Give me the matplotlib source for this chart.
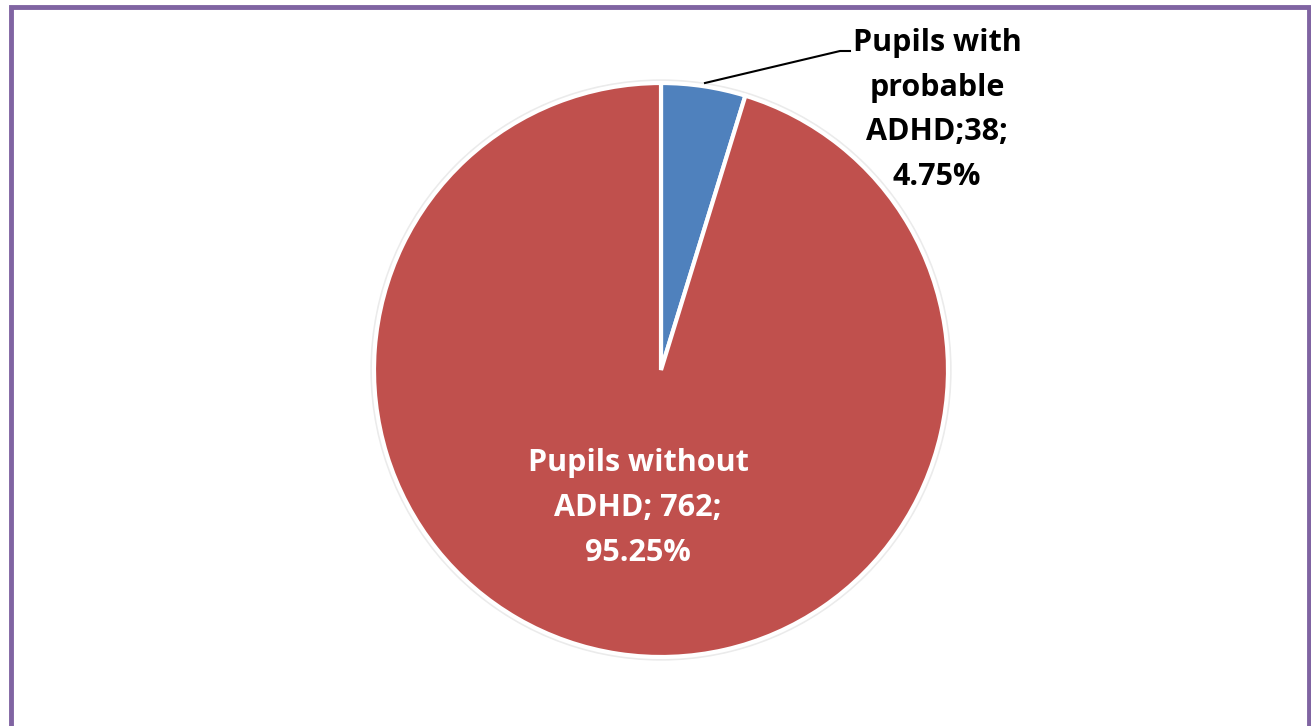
import matplotlib
matplotlib.use("Agg")
import matplotlib.pyplot as plt
from matplotlib.patches import Rectangle

labels = ["Pupils with\nprobable\nADHD;38;\n4.75%", "Pupils without\nADHD; 762;\n95.25%"]
counts = [38, 762]
colors = ["#4F81BD", "#C0504D"]

W, H = 1311, 726
fig = plt.figure(figsize=(W / 100, H / 100), dpi=100)
ax = fig.add_axes([0, 0, 1, 1])

cx, cy, r = 661, H - 370, 287

# faint outer ring
ax.add_patch(plt.Circle((cx, cy), r + 3, color="#EBEBEB", zorder=0))

wedges, _ = ax.pie(counts, colors=colors, startangle=90, counterclock=False,
                   center=(cx, cy), radius=r, frame=True,
                   wedgeprops=dict(edgecolor="white", linewidth=3))
ax.set_xlim(0, W)
ax.set_ylim(0, H)
ax.axis("off")

font = dict(family=["Open Sans", "DejaVu Sans"], fontweight="bold", fontsize=22)

ax.text(638, H - 508, labels[1], ha="center", va="center", color="white",
        linespacing=1.64, **font)
ax.text(937, H - 110, labels[0], ha="center", va="center", color="black",
        linespacing=1.64, **font)
ax.plot([705, 840, 850], [H - 83, H - 51, H - 51], color="black", lw=1.5)

# purple frame (bottom edge runs off the image)
ax.add_patch(Rectangle((10.5, -20), W - 13, H + 13, fill=False,
                       edgecolor="#8064A2", lw=3.5, clip_on=False))

fig.savefig("out.png", dpi=100)
